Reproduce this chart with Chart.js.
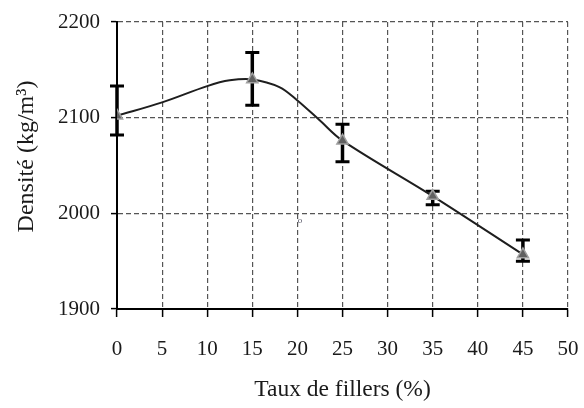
<!DOCTYPE html>
<html>
<head>
<meta charset="utf-8">
<script src="https://cdn.jsdelivr.net/npm/chart.js@4"></script>
<style>
html,body{margin:0;padding:0;background:#fff;}
canvas{display:block;}
</style>
</head>
<body>
<canvas id="c" width="584" height="408"></canvas>
<script>
// Measured points (Taux de fillers %, Densité kg/m3)
const fillerRates = [0, 15, 25, 35, 45];
const densityMean = [2102, 2140, 2076, 2018, 1957];
const densityHigh = [2133, 2168, 2093, 2023, 1972];
const densityLow  = [2082, 2113, 2054, 2009, 1950];

// Trend curve
const curveX = [0, 5, 10, 12.5, 15, 18, 20, 22.5, 25, 35, 45];
const curveY = [2102, 2116, 2133, 2139, 2140, 2132, 2118, 2097, 2076, 2018, 1957];

const xTitle = 'Taux de fillers (%)';
const yTitle = 'Densité (kg/m³)';
const strayMark = {x: 20.3, y: 1992, text: 'o'};

const FONT = "'Liberation Serif', 'Times New Roman', serif";

const errorBars = {
  id: 'errorBars',
  beforeDatasetsDraw(chart) {
    const {ctx, scales: {x, y}} = chart;
    ctx.save();
    ctx.strokeStyle = '#000';
    ctx.lineCap = 'butt';
    for (let i = 0; i < fillerRates.length; i++) {
      const px = x.getPixelForValue(fillerRates[i]);
      const yh = y.getPixelForValue(densityHigh[i]);
      const yl = y.getPixelForValue(densityLow[i]);
      ctx.lineWidth = 3.5;
      ctx.beginPath();
      ctx.moveTo(px, yh); ctx.lineTo(px, yl);
      ctx.stroke();
      ctx.lineWidth = 3;
      ctx.beginPath();
      ctx.moveTo(px - 7, yh); ctx.lineTo(px + 7, yh);
      ctx.moveTo(px - 7, yl); ctx.lineTo(px + 7, yl);
      ctx.stroke();
    }
    ctx.restore();
  },
  afterDraw(chart) {
    const {ctx, scales: {x, y}} = chart;
    ctx.save();
    ctx.font = "9px " + FONT;
    ctx.fillStyle = '#556';
    ctx.textAlign = 'center';
    ctx.textBaseline = 'middle';
    ctx.fillText(strayMark.text, x.getPixelForValue(strayMark.x), y.getPixelForValue(strayMark.y));
    ctx.restore();
  }
};

new Chart(document.getElementById('c'), {
  type: 'scatter',
  data: {
    datasets: [
      {
        label: 'mesures',
        data: fillerRates.map((v, i) => ({x: v, y: densityMean[i]})),
        pointStyle: 'triangle',
        pointRadius: 6.5,
        backgroundColor: '#606060',
        borderColor: '#a0a0a0',
        borderWidth: 1.5,
        showLine: false,
        order: 0
      },
      {
        label: 'courbe',
        data: curveX.map((v, i) => ({x: v, y: curveY[i]})),
        showLine: true,
        borderColor: '#1e1e1e',
        borderWidth: 2,
        pointRadius: 0,
        tension: 0.35,
        fill: false,
        order: 1
      }
    ]
  },
  plugins: [errorBars],
  options: {
    responsive: false,
    animation: false,
    devicePixelRatio: 1,
    layout: {padding: {top: 22, right: 16, left: 0, bottom: 0}},
    plugins: {legend: {display: false}, tooltip: {enabled: false}},
    scales: {
      x: {
        type: 'linear',
        min: 0, max: 50,
        ticks: {stepSize: 5, color: '#1a1a1a', font: {family: FONT, size: 21}, padding: 20, maxRotation: 0,
                callback: v => String(v)},
        grid: {color: '#555', lineWidth: 1.2, tickLength: 8, tickColor: '#000', tickWidth: 1.5, tickBorderDash: []},
        border: {display: true, color: '#000', width: 2, dash: [5, 3]},
        title: {display: true, text: xTitle, color: '#1a1a1a', font: {family: FONT, size: 23.5}, padding: {top: 0, bottom: 4}},
        afterFit(s) { s.height = 99; s.paddingLeft = 0; s.paddingRight = 0; }
      },
      y: {
        type: 'linear',
        min: 1900, max: 2200,
        ticks: {stepSize: 100, color: '#1a1a1a', font: {family: FONT, size: 21}, padding: 11,
                callback: v => String(v)},
        grid: {color: '#555', lineWidth: 1.2, tickLength: 6, tickColor: '#000', tickWidth: 1.5, tickBorderDash: []},
        border: {display: true, color: '#000', width: 2, dash: [5, 3]},
        title: {display: true, text: '   ' + yTitle, color: '#1a1a1a', font: {family: FONT, size: 24}, padding: {top: 12, bottom: 0}},
        afterFit(s) { s.width = 117; s.paddingTop = 0; s.paddingBottom = 0; }
      }
    }
  }
});
</script>
</body>
</html>
